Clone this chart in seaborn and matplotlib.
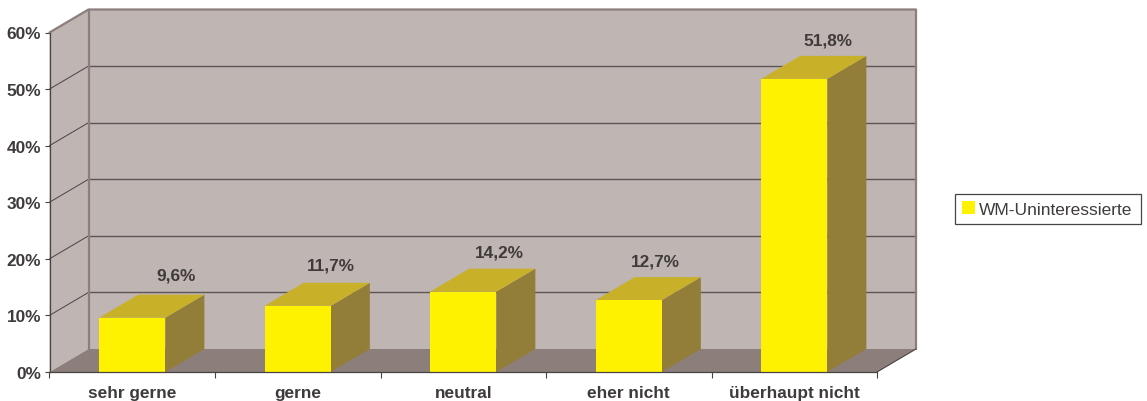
import matplotlib
matplotlib.use("Agg")
import matplotlib.pyplot as plt
import seaborn as sns
import pandas as pd
from matplotlib.patches import Polygon

categories = ["sehr gerne", "gerne", "neutral", "eher nicht", "überhaupt nicht"]
values = [9.6, 11.7, 14.2, 12.7, 51.8]
value_labels = ["9,6%", "11,7%", "14,2%", "12,7%", "51,8%"]
y_ticks = [0, 10, 20, 30, 40, 50, 60]
series_name = "WM-Uninteressierte"

# style
WALL, FLOOR, FRONT, TOP, SIDE = "#BFB5B3", "#8C7F7B", "#FFF200", "#C8B128", "#927D39"
TEXT, GRID, BACKGRID = "#3F3B3B", "#4A4343", "#5E5656"
DEPTH_X, DEPTH_Y = 39 / 165.5, 23 / (339.5 / 60)
BAR_W = 0.4
LABEL_DX = [44, 33, 36, 27, 34]   # px right of bar centre
LABEL_DY = [20, 18, 17, 16, 16]   # px above bar back-top

W, H = 1147, 402
sns.set_theme(style="white")
plt.rcParams["font.family"] = ["Liberation Sans", "DejaVu Sans"]
fig = plt.figure(figsize=(W / 100, H / 100), dpi=100)
ax = fig.add_axes([49.5 / W, (H - 373) / H, 827.5 / W, 339.5 / H])

df = pd.DataFrame({"cat": categories, "val": values})
sns.barplot(data=df, x="cat", y="val", color=FRONT, saturation=1, width=BAR_W,
            ax=ax, label=series_name, linewidth=0, zorder=6)
ax.set_xlim(-0.5, len(categories) - 0.5)
ax.set_ylim(0, 60)
ax.patch.set_visible(False)
ax.set_xlabel("")
ax.set_ylabel("")

x0, x1 = -0.5, len(categories) - 0.5
dx, dy = DEPTH_X, DEPTH_Y
ymax = 60


def poly(pts, color, z, **kw):
    ax.add_patch(Polygon(pts, closed=True, facecolor=color, edgecolor=kw.pop("ec", "none"),
                         clip_on=False, zorder=z, **kw))


# left wall, back wall, floor
poly([(x0, 0), (x0 + dx, dy), (x0 + dx, ymax + dy), (x0, ymax)], WALL, 0.5)
poly([(x0 + dx, dy), (x1 + dx, dy), (x1 + dx, ymax + dy), (x0 + dx, ymax + dy)], WALL, 0.5)
poly([(x0, 0), (x1, 0), (x1 + dx, dy), (x0 + dx, dy)], FLOOR, 0.6)

# gridlines over both walls
for t in y_ticks[1:-1]:
    ax.plot([x0, x0 + dx], [t, t + dy], color=GRID, lw=0.7, clip_on=False, zorder=1)
    ax.plot([x0 + dx, x1 + dx], [t + dy, t + dy], color=BACKGRID, lw=1.0, clip_on=False, zorder=1)
# wall border
ax.plot([x0, x0 + dx, x1 + dx, x1 + dx], [ymax, ymax + dy, ymax + dy, dy],
        color=FLOOR, lw=1.6, clip_on=False, zorder=1.2)
ax.plot([x0 + dx, x0 + dx], [dy, ymax + dy], color=FLOOR, lw=1.6, clip_on=False, zorder=1.2)
ax.plot([x1, x1 + dx], [0, dy], color=GRID, lw=0.8, clip_on=False, zorder=1.2)

# bar depth faces and labels
for i, v in enumerate(values):
    l, r = i - BAR_W / 2, i + BAR_W / 2
    poly([(r, 0), (r + dx, dy), (r + dx, v + dy), (r, v)], SIDE, 4)
    poly([(l, v), (r, v), (r + dx, v + dy), (l + dx, v + dy)], TOP, 4)
    ax.annotate(value_labels[i], xy=(i, v + dy), xytext=(LABEL_DX[i] * 0.72, LABEL_DY[i] * 0.72),
                textcoords="offset points", ha="center", va="center",
                fontsize=12.4, fontweight="bold", color=TEXT, annotation_clip=False, zorder=8)

# axes decoration
sns.despine(ax=ax, top=True, right=True)
for s in ("left", "bottom"):
    ax.spines[s].set_color(GRID)
    ax.spines[s].set_linewidth(0.9)
    ax.spines[s].set_zorder(7)
ax.set_yticks(y_ticks)
ax.set_yticklabels([f"{t}%" for t in y_ticks], fontsize=12.4, fontweight="bold", color=TEXT)
ax.set_xticks(range(len(categories)))
ax.set_xticklabels(categories, fontsize=12.4, fontweight="bold", color=TEXT)
ax.set_xticks([i - 0.5 for i in range(len(categories) + 1)], minor=True)
ax.tick_params(axis="x", which="major", length=0, pad=9.2)
ax.tick_params(axis="x", which="minor", length=4, width=0.8, color=GRID, bottom=True)
ax.tick_params(axis="y", which="major", left=True, length=3.6, width=0.8, color=GRID, pad=2.5)

leg = ax.legend(loc="center", bbox_to_anchor=(955 / W, (H - 224) / H, 186 / W, 28 / H),
                bbox_transform=fig.transFigure, frameon=True, fancybox=False, fontsize=12.5,
                mode="expand", handlelength=0.78, handleheight=0.78, handletextpad=0.2,
                borderpad=0.4, borderaxespad=0, labelcolor=TEXT, edgecolor=GRID)
leg.get_frame().set_linewidth(0.9)
leg.get_frame().set_alpha(1)

fig.savefig("out.png", dpi=100)
